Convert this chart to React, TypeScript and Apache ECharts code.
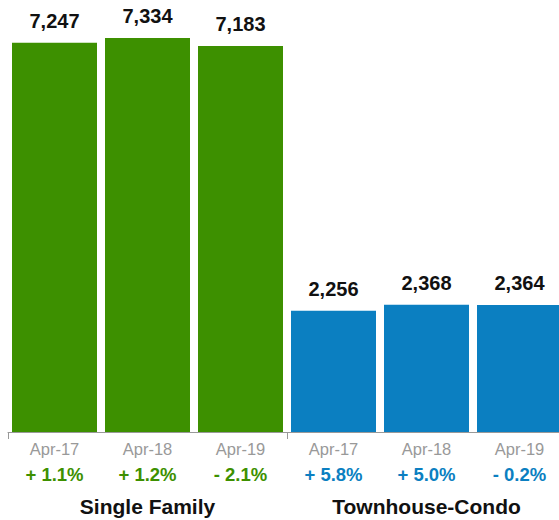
import React, { useEffect, useRef } from "react";
import * as echarts from "echarts";

const categories = ["Apr-17", "Apr-18", "Apr-19", "Apr-17", "Apr-18", "Apr-19"];
const groups = ["Single Family", "Townhouse-Condo"];
const values = [7247, 7334, 7183, 2256, 2368, 2364];
const changes = ["+ 1.1%", "+ 1.2%", "- 2.1%", "+ 5.8%", "+ 5.0%", "- 0.2%"];
const groupOf = [0, 0, 0, 1, 1, 1];

const GREEN = "#3d9000";
const BLUE = "#0b7fc1";
const FONT = "Liberation Sans, Arial, Helvetica, sans-serif";

export default function App() {
  const ref = useRef<HTMLDivElement>(null);
  useEffect(() => {
    document.body.style.margin = "0";
    if (!ref.current) return;
    const chart = echarts.init(ref.current, undefined, { renderer: "svg" });
    chart.setOption({
      animation: false,
      textStyle: { fontFamily: FONT },
      grid: { left: 8, right: 4, top: 38, bottom: 88, containLabel: false },
      xAxis: [
        {
          type: "category",
          data: categories,
          boundaryGap: true,
          axisLine: { show: true, lineStyle: { color: "#999", width: 1 } },
          axisTick: {
            show: true,
            length: 7,
            interval: (i: number) => i % 3 === 0,
            lineStyle: { color: "#999" },
          },
          axisLabel: {
            margin: 6,
            interval: 0,
            formatter: (v: string, i: number) =>
              `{a|${v}}\n{${groupOf[i] === 0 ? "g" : "b"}|${changes[i]}}`,
            rich: {
              a: { color: "#999", fontSize: 16.5, lineHeight: 22, fontFamily: FONT },
              g: { color: GREEN, fontSize: 18.5, fontWeight: "bold", lineHeight: 28, fontFamily: FONT },
              b: { color: BLUE, fontSize: 18.5, fontWeight: "bold", lineHeight: 28, fontFamily: FONT },
            },
          },
        },
        {
          type: "category",
          data: groups,
          position: "bottom",
          gridIndex: 0,
          axisLine: { show: false },
          axisTick: { show: false },
          axisLabel: {
            margin: 62,
            interval: 0,
            color: "#111",
            fontSize: 21,
            fontWeight: "bold",
            lineHeight: 24,
            fontFamily: FONT,
          },
        },
      ],
      yAxis: { type: "value", show: false, min: 0, max: "dataMax" },
      series: [
        {
          type: "bar",
          xAxisIndex: 0,
          barWidth: 85,
          data: values.map((v, i) => ({
            value: v,
            itemStyle: { color: groupOf[i] === 0 ? GREEN : BLUE },
          })),
          label: {
            show: true,
            position: "top",
            distance: 12,
            color: "#111",
            fontSize: 20,
            fontWeight: "bold",
            fontFamily: FONT,
            formatter: (p: any) => Number(p.value).toLocaleString("en-US"),
          },
        },
      ],
    });
    return () => chart.dispose();
  }, []);
  return (
    <div style={{ width: 559, height: 520, overflow: "hidden", position: "relative" }}>
      <div ref={ref} style={{ width: 570, height: 520 }} />
    </div>
  );
}
